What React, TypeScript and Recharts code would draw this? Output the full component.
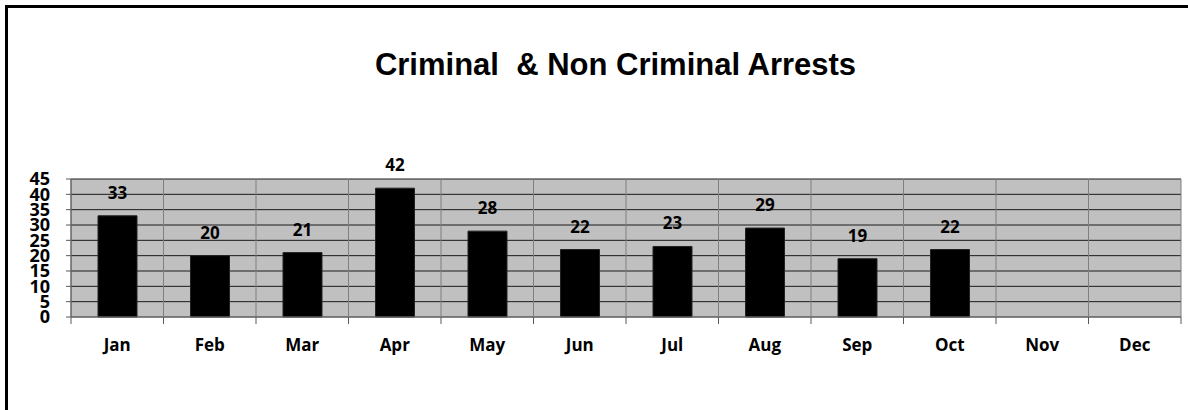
import React from 'react'
import { BarChart, Bar, XAxis, YAxis, CartesianGrid, LabelList } from 'recharts'

const MONTHS = ['Jan', 'Feb', 'Mar', 'Apr', 'May', 'Jun', 'Jul', 'Aug', 'Sep', 'Oct', 'Nov', 'Dec']
const ARRESTS: (number | null)[] = [33, 20, 21, 42, 28, 22, 23, 29, 19, 22, null, null]
const Y_TICKS = [0, 5, 10, 15, 20, 25, 30, 35, 40, 45]

const W = 1188
const H = 410
const MARGIN = { top: 179, right: 7, bottom: 63, left: 0 }
const Y_AXIS_W = 71
const X_AXIS_H = 30
const TICK_SIZE = 7
const TICK_MARGIN = 15
const HALF_BAND = (W - MARGIN.left - MARGIN.right - Y_AXIS_W) / MONTHS.length / 2

const data = MONTHS.map((m, i) => ({ month: m, arrests: ARRESTS[i] }))

const labelFont = { fontFamily: '"Open Sans", sans-serif', fontWeight: 700 }

function MonthTick(props: any) {
  const { x, y, payload, index } = props
  const top = y - TICK_SIZE - TICK_MARGIN
  return (
    <g>
      <line x1={x - HALF_BAND} x2={x - HALF_BAND} y1={top} y2={top + TICK_SIZE} stroke="#595959" />
      {index === MONTHS.length - 1 && (
        <line x1={x + HALF_BAND} x2={x + HALF_BAND} y1={top} y2={top + TICK_SIZE} stroke="#595959" />
      )}
      <text x={x} y={y + 12} textAnchor="middle" fontSize={17} fill="#000" style={labelFont}>
        {payload.value}
      </text>
    </g>
  )
}

export default function App() {
  return (
    <div style={{ position: 'fixed', left: 0, top: 0, width: W, height: H, background: '#fff', overflow: 'hidden' }}>
      <div
        style={{
          position: 'absolute',
          left: 5,
          top: 5,
          width: W,
          height: H,
          borderLeft: '3px solid #000',
          borderTop: '3px solid #000',
        }}
      />
      <div
        style={{
          position: 'absolute',
          left: 615.5,
          top: 48.7,
          transform: 'translateX(-50%)',
          whiteSpace: 'pre',
          fontFamily: '"Liberation Sans", Arial, sans-serif',
          fontWeight: 700,
          fontSize: 31,
          lineHeight: '31px',
          color: '#000',
        }}
      >
        Criminal  &amp; Non Criminal Arrests
      </div>
      <div style={{ position: 'absolute', left: 0, top: 0 }}>
        <BarChart width={W} height={H} data={data} margin={MARGIN}>
          <CartesianGrid vertical={false} stroke="#1a1a1a" fill="#C0C0C0" fillOpacity={1} />
          <CartesianGrid
            horizontal={false}
            stroke="#7f7f7f"
            verticalCoordinatesGenerator={({ offset }: any) =>
              [...MONTHS, ''].map((_, i) => offset.left + (i * offset.width) / MONTHS.length)
            }
          />
          <XAxis
            dataKey="month"
            height={X_AXIS_H}
            interval={0}
            tickLine={false}
            tickSize={TICK_SIZE}
            tickMargin={TICK_MARGIN}
            stroke="#7f7f7f"
            tick={<MonthTick />}
          />
          <YAxis
            width={Y_AXIS_W}
            domain={[0, 45]}
            ticks={Y_TICKS}
            interval={0}
            tickSize={5}
            tickMargin={16}
            stroke="#595959"
            tick={{ fill: '#000', fontSize: 18, ...labelFont }}
          />
          <Bar dataKey="arrests" fill="#000" stroke="#222" barSize={39} isAnimationActive={false}>
            <LabelList
              dataKey="arrests"
              position="top"
              offset={17}
              fill="#000"
              fontSize={17}
              style={labelFont}
            />
          </Bar>
        </BarChart>
      </div>
    </div>
  )
}
